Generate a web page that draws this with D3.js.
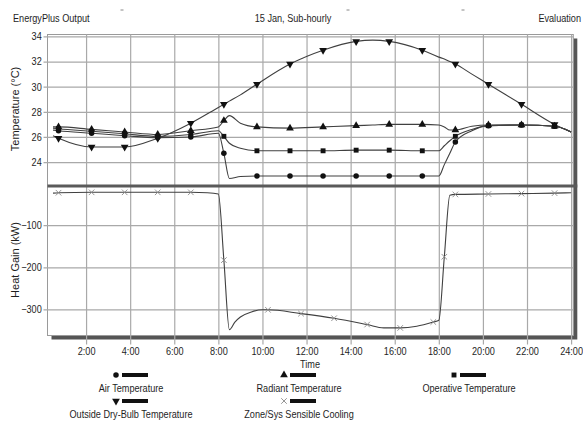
<!DOCTYPE html>
<html>
<head>
<meta charset="utf-8">
<script src="https://cdn.jsdelivr.net/npm/d3@7"></script>
<style>
  html, body { margin: 0; padding: 0; background: #fff; }
  svg { display: block; font-family: "Liberation Sans", Arial, sans-serif; }
  text { fill: #1e1e1e; }
</style>
</head>
<body>
<svg id="chart" width="583" height="421"></svg>
<script>
// ---- Zone temperatures, 15 Jan (hours of day) ----
const tempTimes     = [0.5, 0.75, 2.25, 3.75, 5.25, 6.75, 8.0, 8.25, 8.5, 9.0, 9.75, 11.25, 12.75, 14.25, 15.0, 15.75, 17.25, 18.0, 18.25, 18.5, 18.75, 19.5, 20.25, 21.75, 23.25, 24.0];
const airTemp       = [26.55, 26.5, 26.3, 26.1, 25.95, 26.0, 26.3, 24.7, 22.7, 22.85, 22.9, 22.9, 22.9, 22.9, 22.9, 22.9, 22.9, 22.9, 23.8, 24.7, 25.6, 26.5, 26.9, 26.95, 26.85, 26.4];
const radiantTemp   = [26.8, 26.8, 26.6, 26.4, 26.2, 26.5, 26.8, 27.3, 27.7, 27.1, 26.8, 26.7, 26.8, 26.9, 26.95, 27.0, 27.0, 26.95, 26.8, 26.55, 26.55, 26.85, 26.95, 26.95, 26.85, 26.4];
const operativeTemp = [26.7, 26.65, 26.45, 26.25, 26.05, 26.2, 26.5, 26.05, 25.5, 25.1, 24.9, 24.9, 24.9, 24.95, 24.95, 24.95, 24.9, 24.9, 25.3, 25.7, 26.05, 26.6, 26.9, 26.95, 26.85, 26.4];
const outsideTemp   = [26.1, 25.9, 25.2, 25.2, 25.9, 27.1, 28.35, 28.6, 28.85, 29.35, 30.2, 31.8, 32.9, 33.6, 33.7, 33.6, 32.9, 32.35, 32.2, 32.0, 31.8, 31.0, 30.2, 28.6, 27.0, 26.4];
const tempMarkerTimes = [0.75, 2.25, 3.75, 5.25, 6.75, 8.25, 9.75, 11.25, 12.75, 14.25, 15.75, 17.25, 18.75, 20.25, 21.75, 23.25];

// ---- Zone/Sys sensible cooling (kW) ----
const coolTimes       = [0.5, 0.75, 2.25, 3.75, 5.25, 6.75, 7.5, 8.0, 8.25, 8.5, 8.75, 9.0, 9.5, 10.0, 10.25, 11.75, 13.25, 14.75, 15.5, 16.25, 17.0, 17.75, 18.0, 18.25, 18.5, 18.75, 20.25, 21.75, 23.25, 24.0];
const sensibleCooling = [-24, -23, -22, -22, -22, -22, -23, -26, -183, -348, -330, -318, -306, -301, -301, -310, -321, -336, -344, -344, -340, -330, -326, -175, -29, -27, -26, -25, -24, -23];
const coolMarkerTimes = [0.75, 2.25, 3.75, 5.25, 6.75, 8.25, 10.25, 11.75, 13.25, 14.75, 16.25, 17.75, 18.25, 18.75, 20.25, 21.75, 23.25];

// ---- Axis ticks ----
const timeTicks      = [2, 4, 6, 8, 10, 12, 14, 16, 18, 20, 22, 24];
const timeTickLabels = ["2:00", "4:00", "6:00", "8:00", "10:00", "12:00", "14:00", "16:00", "18:00", "20:00", "22:00", "24:00"];
const tempTicks      = [24, 26, 28, 30, 32, 34];
const heatTicks      = [-100, -200, -300];

// ---- Legend ----
const legendNames   = ["Air Temperature", "Radiant Temperature", "Operative Temperature", "Outside Dry-Bulb Temperature", "Zone/Sys Sensible Cooling"];
const legendSymbols = ["circle", "triangle", "square", "down", "x"];

const svg = d3.select("#chart");
const SX = 0.87; // narrow text face
const plotL = 47.5, plotR = 573.3, plotT = 34.5, plotSplit = 186, plotB = 335.5;

function label(g, px, py, str, anchor, size) {
  return g.append("text")
    .attr("transform", `translate(${px},${py}) scale(${SX},1)`)
    .attr("text-anchor", anchor || "start")
    .attr("font-size", size || 10.5)
    .text(str);
}

const x  = d3.scaleLinear().domain([0.25, 24.1]).range([plotL, plotR]);
const yT = d3.scaleLinear().domain([22.1, 34.15]).range([plotSplit, plotT]);
const yH = d3.scaleLinear().domain([-362, -7]).range([plotB, plotSplit]);

// header
label(svg, 13, 21.5, "EnergyPlus Output", "start");
label(svg, 293, 21.5, "15 Jan, Sub-hourly", "middle");
label(svg, 581, 21.5, "Evaluation", "end");
[122, 348, 463].forEach(px => svg.append("line")
  .attr("x1", px - 1.5).attr("x2", px + 1.5).attr("y1", 10).attr("y2", 10)
  .attr("stroke", "#888").attr("stroke-width", 1));

// plot frame with drop shadow
svg.append("rect").attr("x", plotL + 4).attr("y", plotT + 4)
  .attr("width", plotR - plotL).attr("height", plotB - plotT).attr("fill", "#555");
svg.append("rect").attr("x", plotL).attr("y", plotT)
  .attr("width", plotR - plotL).attr("height", plotB - plotT)
  .attr("fill", "#fff").attr("stroke", "#9a9a9a").attr("stroke-width", 1);

const gridColor = "#a9a9a9";

function styleAxis(g) {
  g.select(".domain").remove();
  g.selectAll("line").attr("stroke", gridColor).attr("stroke-width", 1.2);
  g.selectAll("text").attr("font-size", 10.5).attr("fill", "#1e1e1e")
    .attr("font-family", "Liberation Sans, Arial, sans-serif")
    .attr("transform", `scale(${SX},1)`);
}

// time axis with vertical grid
svg.append("g").attr("transform", `translate(0,${plotB + 9})`)
  .call(d3.axisBottom(x).tickValues(timeTicks)
    .tickFormat((d, i) => timeTickLabels[i])
    .tickSizeInner(-(plotB + 9 - plotT)).tickSizeOuter(0).tickPadding(3))
  .call(styleAxis);

// temperature axis with grid
svg.append("g").attr("transform", `translate(${plotL - 4},0)`)
  .call(d3.axisLeft(yT).tickValues(tempTicks)
    .tickSizeInner(-(plotR - plotL + 4)).tickSizeOuter(0).tickPadding(2))
  .call(styleAxis);

// heat gain axis with grid
svg.append("g").attr("transform", `translate(${plotL - 4},0)`)
  .call(d3.axisLeft(yH).tickValues(heatTicks)
    .tickSizeInner(-(plotR - plotL + 4)).tickSizeOuter(0).tickPadding(2))
  .call(styleAxis);

// panel divider
svg.append("line").attr("x1", plotL).attr("x2", plotR + 4)
  .attr("y1", plotSplit).attr("y2", plotSplit)
  .attr("stroke", "#5a5a5a").attr("stroke-width", 3);

// axis titles
svg.append("text").attr("transform", `translate(19,109) rotate(-90)`)
  .attr("text-anchor", "middle").attr("font-size", 11).text("Temperature (°C)");
svg.append("text").attr("transform", `translate(19,260) rotate(-90)`)
  .attr("text-anchor", "middle").attr("font-size", 11).text("Heat Gain (kW)");
label(svg, 310, 368, "Time", "middle");

// series
const lineColor = "#404040";
const symbolPath = {
  circle:   d3.symbol().type(d3.symbolCircle).size(24)(),
  triangle: d3.symbol().type(d3.symbolTriangle).size(26)(),
  square:   d3.symbol().type(d3.symbolSquare).size(24)(),
  down:     d3.symbol().type(d3.symbolTriangle).size(26)(),
  x:        d3.symbol().type(d3.symbolX).size(22)()
};
function drawMarker(g, kind, px, py) {
  const p = g.append("path").attr("d", symbolPath[kind]);
  if (kind === "x") {
    p.attr("transform", `translate(${px},${py})`).attr("fill", "none")
      .attr("stroke", "#8a8a8a").attr("stroke-width", 0.9);
  } else {
    p.attr("transform", `translate(${px},${py})` + (kind === "down" ? " rotate(180)" : ""))
      .attr("fill", "#111");
  }
}

function drawSeries(times, values, yScale, markerTimes, kind) {
  const pts = times.map((t, i) => [t, values[i]]);
  const line = d3.line().x(d => x(d[0])).y(d => yScale(d[1])).curve(d3.curveMonotoneX);
  svg.append("path").attr("d", line(pts)).attr("fill", "none")
    .attr("stroke", lineColor).attr("stroke-width", 1.1);
  const g = svg.append("g");
  pts.filter(d => markerTimes.includes(d[0]))
    .forEach(d => drawMarker(g, kind, x(d[0]), yScale(d[1])));
}

drawSeries(coolTimes, sensibleCooling, yH, coolMarkerTimes, "x");
drawSeries(tempTimes, outsideTemp, yT, tempMarkerTimes, "down");
drawSeries(tempTimes, radiantTemp, yT, tempMarkerTimes, "triangle");
drawSeries(tempTimes, operativeTemp, yT, tempMarkerTimes, "square");
drawSeries(tempTimes, airTemp, yT, tempMarkerTimes, "circle");

// legend: three columns, two rows
const colCenters = [130, 298, 468];
const rowY = [375, 401];
legendNames.forEach((name, i) => {
  const cx = colCenters[i % 3], ry = rowY[Math.floor(i / 3)];
  const g = svg.append("g");
  drawMarker(g, legendSymbols[i], cx - 14, ry);
  g.append("rect").attr("x", cx - 8).attr("y", ry - 2).attr("width", 26).attr("height", 4).attr("fill", "#111");
  label(g, cx + 1, ry + 17, name, "middle");
});
</script>
</body>
</html>
